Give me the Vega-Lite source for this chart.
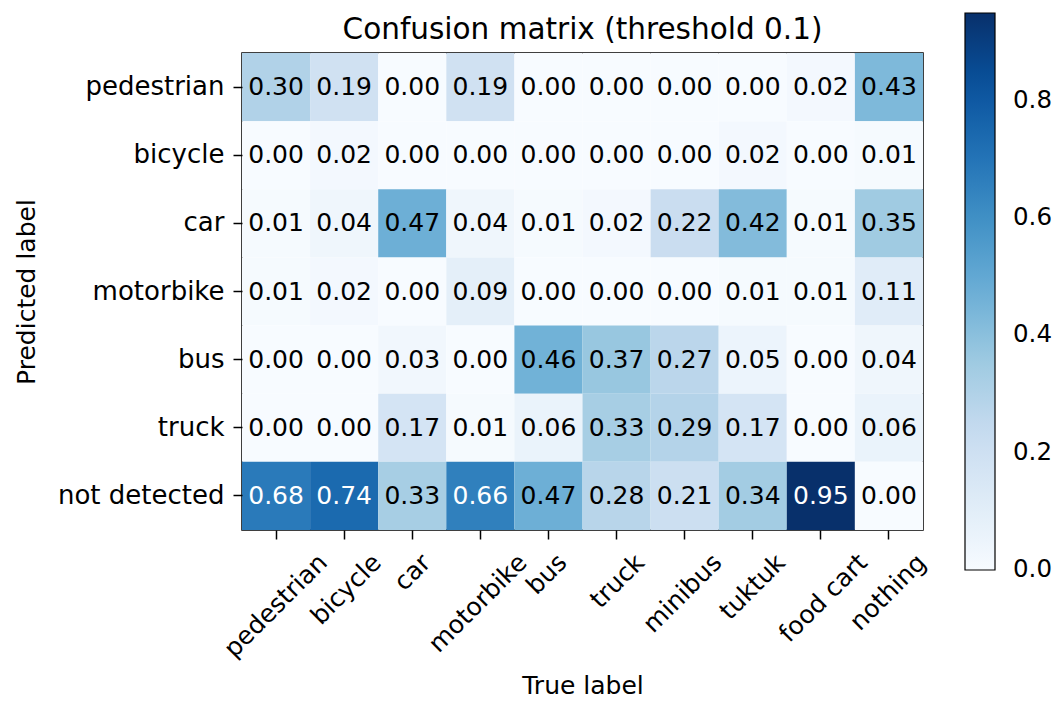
{
  "$schema": "https://vega.github.io/schema/vega-lite/v6.json",
  "width": 681,
  "height": 477,
  "autosize": {"type": "none"},
  "padding": {"left": 242, "top": 53, "right": 135, "bottom": 172},
  "background": "white",
  "title": {"text": "Confusion matrix (threshold 0.1)", "fontSize": 29.5, "font": "DejaVu Sans", "fontWeight": "normal", "color": "black", "offset": 11, "dy": 43, "anchor": "middle", "frame": "group"},
  "data": {"values": [
    {"pred": "pedestrian", "actual": "pedestrian", "value": 0.30},
    {"pred": "pedestrian", "actual": "bicycle", "value": 0.19},
    {"pred": "pedestrian", "actual": "car", "value": 0.00},
    {"pred": "pedestrian", "actual": "motorbike", "value": 0.19},
    {"pred": "pedestrian", "actual": "bus", "value": 0.00},
    {"pred": "pedestrian", "actual": "truck", "value": 0.00},
    {"pred": "pedestrian", "actual": "minibus", "value": 0.00},
    {"pred": "pedestrian", "actual": "tuktuk", "value": 0.00},
    {"pred": "pedestrian", "actual": "food cart", "value": 0.02},
    {"pred": "pedestrian", "actual": "nothing", "value": 0.43},
    {"pred": "bicycle", "actual": "pedestrian", "value": 0.00},
    {"pred": "bicycle", "actual": "bicycle", "value": 0.02},
    {"pred": "bicycle", "actual": "car", "value": 0.00},
    {"pred": "bicycle", "actual": "motorbike", "value": 0.00},
    {"pred": "bicycle", "actual": "bus", "value": 0.00},
    {"pred": "bicycle", "actual": "truck", "value": 0.00},
    {"pred": "bicycle", "actual": "minibus", "value": 0.00},
    {"pred": "bicycle", "actual": "tuktuk", "value": 0.02},
    {"pred": "bicycle", "actual": "food cart", "value": 0.00},
    {"pred": "bicycle", "actual": "nothing", "value": 0.01},
    {"pred": "car", "actual": "pedestrian", "value": 0.01},
    {"pred": "car", "actual": "bicycle", "value": 0.04},
    {"pred": "car", "actual": "car", "value": 0.47},
    {"pred": "car", "actual": "motorbike", "value": 0.04},
    {"pred": "car", "actual": "bus", "value": 0.01},
    {"pred": "car", "actual": "truck", "value": 0.02},
    {"pred": "car", "actual": "minibus", "value": 0.22},
    {"pred": "car", "actual": "tuktuk", "value": 0.42},
    {"pred": "car", "actual": "food cart", "value": 0.01},
    {"pred": "car", "actual": "nothing", "value": 0.35},
    {"pred": "motorbike", "actual": "pedestrian", "value": 0.01},
    {"pred": "motorbike", "actual": "bicycle", "value": 0.02},
    {"pred": "motorbike", "actual": "car", "value": 0.00},
    {"pred": "motorbike", "actual": "motorbike", "value": 0.09},
    {"pred": "motorbike", "actual": "bus", "value": 0.00},
    {"pred": "motorbike", "actual": "truck", "value": 0.00},
    {"pred": "motorbike", "actual": "minibus", "value": 0.00},
    {"pred": "motorbike", "actual": "tuktuk", "value": 0.01},
    {"pred": "motorbike", "actual": "food cart", "value": 0.01},
    {"pred": "motorbike", "actual": "nothing", "value": 0.11},
    {"pred": "bus", "actual": "pedestrian", "value": 0.00},
    {"pred": "bus", "actual": "bicycle", "value": 0.00},
    {"pred": "bus", "actual": "car", "value": 0.03},
    {"pred": "bus", "actual": "motorbike", "value": 0.00},
    {"pred": "bus", "actual": "bus", "value": 0.46},
    {"pred": "bus", "actual": "truck", "value": 0.37},
    {"pred": "bus", "actual": "minibus", "value": 0.27},
    {"pred": "bus", "actual": "tuktuk", "value": 0.05},
    {"pred": "bus", "actual": "food cart", "value": 0.00},
    {"pred": "bus", "actual": "nothing", "value": 0.04},
    {"pred": "truck", "actual": "pedestrian", "value": 0.00},
    {"pred": "truck", "actual": "bicycle", "value": 0.00},
    {"pred": "truck", "actual": "car", "value": 0.17},
    {"pred": "truck", "actual": "motorbike", "value": 0.01},
    {"pred": "truck", "actual": "bus", "value": 0.06},
    {"pred": "truck", "actual": "truck", "value": 0.33},
    {"pred": "truck", "actual": "minibus", "value": 0.29},
    {"pred": "truck", "actual": "tuktuk", "value": 0.17},
    {"pred": "truck", "actual": "food cart", "value": 0.00},
    {"pred": "truck", "actual": "nothing", "value": 0.06},
    {"pred": "not detected", "actual": "pedestrian", "value": 0.68},
    {"pred": "not detected", "actual": "bicycle", "value": 0.74},
    {"pred": "not detected", "actual": "car", "value": 0.33},
    {"pred": "not detected", "actual": "motorbike", "value": 0.66},
    {"pred": "not detected", "actual": "bus", "value": 0.47},
    {"pred": "not detected", "actual": "truck", "value": 0.28},
    {"pred": "not detected", "actual": "minibus", "value": 0.21},
    {"pred": "not detected", "actual": "tuktuk", "value": 0.34},
    {"pred": "not detected", "actual": "food cart", "value": 0.95},
    {"pred": "not detected", "actual": "nothing", "value": 0.00}
  ]},
  "encoding": {
    "x": {
      "field": "actual", "type": "nominal",
      "sort": ["pedestrian", "bicycle", "car", "motorbike", "bus", "truck", "minibus", "tuktuk", "food cart", "nothing"],
      "title": "True label",
      "scale": {"paddingInner": 0, "paddingOuter": 0},
      "axis": {
        "labelAngle": -45, "labelAlign": "right", "labelBaseline": "middle",
        "labelPadding": 19, "titlePadding": 12,
        "labelOffset": {"expr": "length(datum.value)*4.7"}
      }
    },
    "y": {
      "field": "pred", "type": "nominal",
      "sort": ["pedestrian", "bicycle", "car", "motorbike", "bus", "truck", "not detected"],
      "title": "Predicted label",
      "scale": {"paddingInner": 0, "paddingOuter": 0},
      "axis": {"labelPadding": 9, "titlePadding": 18, "labelFontSize": 26}
    }
  },
  "layer": [
    {
      "mark": {"type": "rect"},
      "encoding": {
        "color": {
          "field": "value", "type": "quantitative",
          "scale": {
            "domain": [0, 0.11875, 0.2375, 0.35625, 0.475, 0.59375, 0.7125, 0.83125, 0.95],
            "range": ["#f7fbff", "#deebf7", "#c6dbef", "#9ecae1", "#6baed6", "#4292c6", "#2171b5", "#08519c", "#08306b"],
            "interpolate": "rgb"
          },
          "legend": {
            "orient": "none", "legendX": 723, "legendY": -40, "direction": "vertical",
            "gradientLength": 557, "gradientThickness": 30, "title": null,
            "values": [0, 0.2, 0.4, 0.6, 0.8], "format": ".1f",
            "labelFontSize": 24.5, "labelFont": "DejaVu Sans", "labelColor": "black", "labelOffset": 18,
            "gradientStrokeColor": "black", "gradientStrokeWidth": 1.2,
            "encode": {"labels": {"update": {"baseline": {"value": "middle"}}}}
          }
        }
      }
    },
    {
      "mark": {"type": "text", "fontSize": 25, "font": "DejaVu Sans"},
      "encoding": {
        "text": {"field": "value", "type": "quantitative", "format": ".2f"},
        "color": {"condition": {"test": "datum.value > 0.475", "value": "white"}, "value": "black"}
      }
    }
  ],
  "config": {
    "view": {"stroke": "black", "strokeWidth": 1.5},
    "axis": {
      "domain": false, "grid": false,
      "tickSize": 9, "tickColor": "black", "tickWidth": 1.5,
      "labelFont": "DejaVu Sans", "labelFontSize": 25, "labelColor": "black",
      "titleFont": "DejaVu Sans", "titleFontSize": 25, "titleFontWeight": "normal", "titleColor": "black"
    }
  }
}
